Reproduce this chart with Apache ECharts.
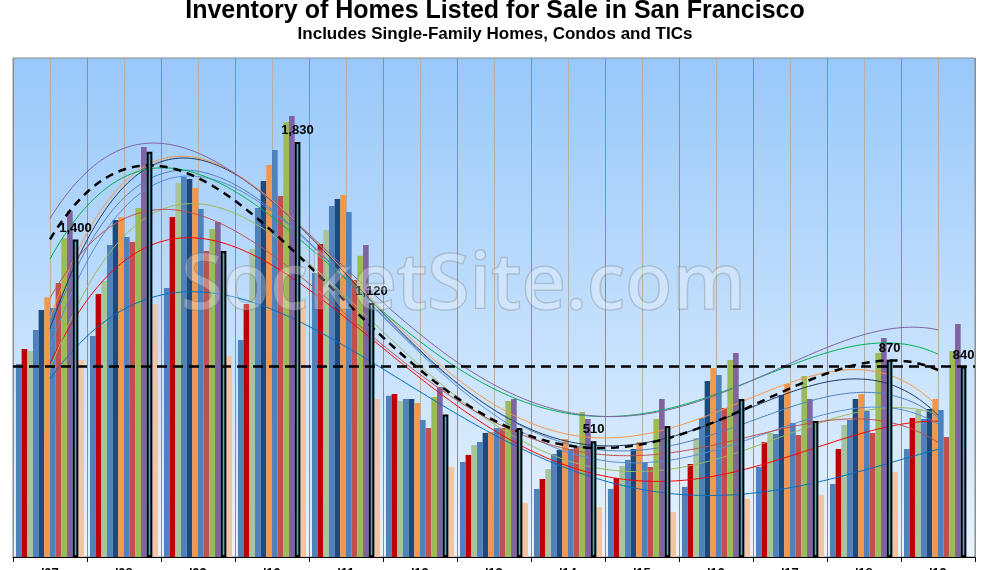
<!DOCTYPE html>
<html>
<head>
<meta charset="utf-8">
<script src="https://cdn.jsdelivr.net/npm/echarts@6/dist/echarts.min.js"></script>
<style>
  html, body { margin: 0; padding: 0; background: #fff; }
  #chart { width: 990px; height: 570px; }
</style>
</head>
<body>
<div id="chart"></div>
<script>
// years on the x axis, one bar per month inside each year
var years = ["'07", "'08", "'09", "'10", "'11", "'12", "'13", "'14", "'15", "'16", "'17", "'18", "'19"];

var jan = [851, 974, 1186, 957, 1252, 711, 419, 300, 300, 309, 397, 322, 476];
var feb = [917, 1160, 1499, 1115, 1380, 719, 450, 344, 348, 410, 507, 476, 613];
var mar = [908, 1217, 1649, 1358, 1442, 688, 494, 388, 401, 525, 547, 582, 648];
var apr = [1001, 1376, 1675, 1539, 1548, 697, 507, 454, 428, 613, 542, 604, 608];
var may = [1089, 1486, 1667, 1658, 1578, 697, 547, 472, 476, 776, 714, 697, 653];
var jun = [1145, 1498, 1627, 1728, 1596, 679, 551, 520, 507, 833, 763, 719, 697];
var jul = [1098, 1411, 1534, 1794, 1521, 604, 569, 476, 419, 802, 591, 644, 648];
var aug = [1208, 1389, 1349, 1592, 1221, 569, 569, 485, 397, 657, 538, 547, 529];
var sep = [1405, 1539, 1446, 1918, 1328, 705, 688, 639, 608, 869, 798, 899, 908];
var oct = [1525, 1808, 1477, 1944, 1376, 750, 697, 608, 697, 899, 697, 966, 1027];
var nov = [1400, 1787, 1349, 1830, 1120, 628, 569, 510, 578, 697, 600, 870, 840];
var dec = [869, 1115, 886, 1129, 697, 397, 238, 220, 198, 256, 273, 375, null];

// years whose november bar carries a value label
var labelledYears = ["'07", "'10", "'11", "'14", "'18", "'19"];

var months = [
    {name: 'Jan', data: jan, color: '#4f81bd', trend: '#0070c0'},
    {name: 'Feb', data: feb, color: '#c00000', trend: '#ff0000'},
    {name: 'Mar', data: mar, color: '#a9c39c', trend: '#9bbb59'},
    {name: 'Apr', data: apr, color: '#4f81bd', trend: '#558ed5'},
    {name: 'May', data: may, color: '#1f497d', trend: '#1f3864'},
    {name: 'Jun', data: jun, color: '#f79646', trend: '#f79646'},
    {name: 'Jul', data: jul, color: '#4f81bd', trend: '#4f81bd'},
    {name: 'Aug', data: aug, color: '#c0504d', trend: '#c0504d'},
    {name: 'Sep', data: sep, color: '#9bbb59', trend: '#00b050'},
    {name: 'Oct', data: oct, color: '#8064a2', trend: '#8064a2'},
    {name: 'Nov', data: nov, color: '#4bacc6', trend: '#000000'},
    {name: 'Dec', data: dec, color: '#f2c4a2', trend: null}
];

var TREND_ORDER = 4;

// least squares polynomial (like the spreadsheet trendline)
function polyfit(xs, ys, deg) {
    var n = deg + 1, A = [], i, j, k;
    for (i = 0; i < n; i++) {
        A.push(new Array(n + 1).fill(0));
    }
    for (k = 0; k < xs.length; k++) {
        for (i = 0; i < n; i++) {
            for (j = 0; j < n; j++) A[i][j] += Math.pow(xs[k], i + j);
            A[i][n] += ys[k] * Math.pow(xs[k], i);
        }
    }
    for (i = 0; i < n; i++) {
        var p = i;
        for (j = i + 1; j < n; j++) if (Math.abs(A[j][i]) > Math.abs(A[p][i])) p = j;
        var tmp = A[i]; A[i] = A[p]; A[p] = tmp;
        for (j = i + 1; j < n; j++) {
            var f = A[j][i] / A[i][i];
            for (k = i; k <= n; k++) A[j][k] -= f * A[i][k];
        }
    }
    var c = new Array(n).fill(0);
    for (i = n - 1; i >= 0; i--) {
        var s = A[i][n];
        for (j = i + 1; j < n; j++) s -= A[i][j] * c[j];
        c[i] = s / A[i][i];
    }
    return c;
}

function trendPoints(data) {
    var xs = [], ys = [];
    data.forEach(function (v, i) {
        if (v != null) { xs.push(i - 6); ys.push(v); }
    });
    var c = polyfit(xs, ys, TREND_ORDER);
    var pts = [];
    for (var t = 0; t <= 12.0001; t += 0.05) {
        var x = t - 6, y = 0;
        for (var i = c.length - 1; i >= 0; i--) y = y * x + c[i];
        pts.push([2 * t + 1, y]);   // centre of year t on the 0..26 helper axis
    }
    return pts;
}

var chart = echarts.init(document.getElementById('chart'));

var series = [];
months.forEach(function (m) {
    var isNov = m.name === 'Nov';
    series.push({
        name: m.name,
        type: 'bar',
        data: m.data.map(function (v) { return v == null ? '-' : v; }),
        barGap: '0%',
        barCategoryGap: '8%',
        z: isNov ? 4 : 2,
        itemStyle: {
            color: m.color,
            borderColor: isNov ? '#000' : m.color,
            borderWidth: isNov ? 2 : 0
        },
        label: isNov ? {
            show: true,
            position: 'top',
            distance: 5,
            color: '#000',
            fontFamily: 'Liberation Sans, Arial',
            fontWeight: 'bold',
            fontSize: 13,
            formatter: function (p) {
                return labelledYears.indexOf(p.name) >= 0 ? p.value.toLocaleString('en-US') : '';
            }
        } : {show: false},
        markLine: isNov ? {
            silent: true,
            symbol: 'none',
            label: {show: false},
            lineStyle: {color: '#000', type: [10, 6], width: 2.5},
            data: [{yAxis: nov[nov.length - 1]}]
        } : undefined
    });
});

months.forEach(function (m) {
    if (!m.trend) return;
    var isNov = m.name === 'Nov';
    series.push({
        name: m.name + ' trend',
        type: 'line',
        xAxisIndex: 1,
        data: trendPoints(m.data),
        showSymbol: false,
        silent: true,
        z: 3,
        lineStyle: isNov ? {color: '#000', width: 2.5, type: [8, 6]} : {color: m.trend, width: 1}
    });
});

chart.setOption({
    animation: false,
    title: [{
        text: 'Inventory of Homes Listed for Sale in San Francisco',
        left: 'center',
        top: -6,
        textStyle: {fontFamily: 'Liberation Sans, Arial', fontWeight: 'bold', fontSize: 25, color: '#000'}
    }, {
        text: 'Includes Single-Family Homes, Condos and TICs',
        left: 'center',
        top: 21,
        textStyle: {fontFamily: 'Liberation Sans, Arial', fontWeight: 'bold', fontSize: 17, color: '#000'}
    }],
    grid: {
        left: 13, right: 15, top: 58, bottom: 13,
        outerBoundsMode: 'none',
        containLabel: false,
        show: true,
        borderColor: '#8a8a8a',
        borderWidth: 1,
        backgroundColor: new echarts.graphic.LinearGradient(0, 0, 0, 1, [
            {offset: 0, color: '#98c8fa'},
            {offset: 1, color: '#e8f3fe'}
        ])
    },
    xAxis: [{
        type: 'category',
        data: years,
        axisLine: {lineStyle: {color: '#000', width: 1}},
        axisTick: {show: true, length: 5, lineStyle: {color: '#000'}},
        axisLabel: {margin: 10, color: '#000', fontWeight: 'bold', fontSize: 13, fontFamily: 'Liberation Sans, Arial'},
        splitLine: {show: false}
    }, {
        type: 'value',
        min: 0, max: 26, interval: 1,
        position: 'top',
        axisLine: {show: false},
        axisTick: {show: false},
        axisLabel: {show: false},
        splitLine: {show: true, lineStyle: {color: ['#8e8e8e', '#b6aea6'], width: 1}}
    }],
    yAxis: {
        type: 'value',
        min: 0, max: 2200,
        axisLine: {show: false},
        axisTick: {show: false},
        axisLabel: {show: false},
        splitLine: {show: false}
    },
    graphic: [{
        type: 'text',
        left: 180,
        top: 248,
        z: 100,
        silent: true,
        style: {
            text: 'SocketSite.com',
            font: '600 77px "Open Sans", sans-serif',
            fill: 'rgba(255,255,255,0.28)',
            stroke: 'rgba(110,110,110,0.35)',
            lineWidth: 1.5
        }
    }],
    series: series
});
</script>
</body>
</html>
